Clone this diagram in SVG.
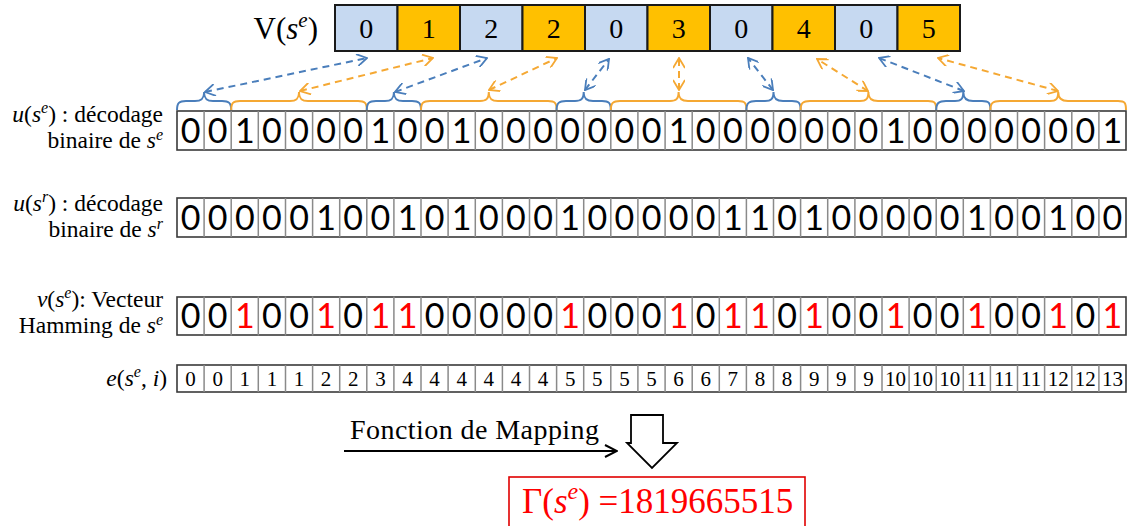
<svg xmlns="http://www.w3.org/2000/svg" width="1129" height="526" viewBox="0 0 1129 526">
<style>
.lbl{font-family:"Liberation Serif",serif;font-size:23.5px;fill:#000}
.it{font-style:italic}
.sup{font-style:italic;font-size:16px}
.vd{font-family:"Liberation Serif",serif;font-size:28px;fill:#000;text-anchor:middle}
.bin{font-family:Lato,"Liberation Sans",sans-serif;font-size:34px;fill:#000;text-anchor:middle}
.red{fill:#FF0000}
.ed{font-family:"Liberation Serif",serif;font-size:21px;fill:#000;text-anchor:middle}
.outer{fill:#fff;stroke:#3a3a3a;stroke-width:1.6}
.grid{stroke:#8a8a8a;stroke-width:1.5;fill:none}
.cb{fill:#C6D9F1;stroke:#1a1a1a;stroke-width:2}
.co{fill:#FFC000;stroke:#1a1a1a;stroke-width:2}
.brb{fill:none;stroke:#4A7EBB;stroke-width:2}
.bro{fill:none;stroke:#F5A833;stroke-width:2}
.ab{stroke:#4A7EBB;stroke-width:2;stroke-dasharray:7 5;fill:none;marker-start:url(#mb);marker-end:url(#mb)}
.ao{stroke:#F5A833;stroke-width:2;stroke-dasharray:7 5;fill:none;marker-start:url(#mo);marker-end:url(#mo)}
</style>
<defs>
<marker id="mb" viewBox="0 0 12 12" refX="11" refY="6" markerWidth="12" markerHeight="12" markerUnits="userSpaceOnUse" orient="auto-start-reverse"><path d="M1,0 L11,6 L1,12" fill="none" stroke="#4A7EBB" stroke-width="1.8"/></marker>
<marker id="mo" viewBox="0 0 12 12" refX="11" refY="6" markerWidth="12" markerHeight="12" markerUnits="userSpaceOnUse" orient="auto-start-reverse"><path d="M1,0 L11,6 L1,12" fill="none" stroke="#F5A833" stroke-width="1.8"/></marker>
<marker id="mk" viewBox="0 0 14 14" refX="13" refY="7" markerWidth="14" markerHeight="14" markerUnits="userSpaceOnUse" orient="auto"><path d="M1,1 L13,7 L1,13" fill="none" stroke="#000" stroke-width="2"/></marker>
<path id="g39" class="grid" d="M204.1,0V39M231.2,0V39M258.3,0V39M285.5,0V39M312.6,0V39M339.7,0V39M366.8,0V39M393.9,0V39M421,0V39M448.1,0V39M475.3,0V39M502.4,0V39M529.5,0V39M556.6,0V39M583.7,0V39M610.8,0V39M637.9,0V39M665.1,0V39M692.2,0V39M719.3,0V39M746.4,0V39M773.5,0V39M800.6,0V39M827.7,0V39M854.9,0V39M882,0V39M909.1,0V39M936.2,0V39M963.3,0V39M990.4,0V39M1017.5,0V39M1044.6,0V39M1071.8,0V39M1098.9,0V39"/>
<path id="g27" class="grid" d="M204.1,0V27M231.2,0V27M258.3,0V27M285.5,0V27M312.6,0V27M339.7,0V27M366.8,0V27M393.9,0V27M421,0V27M448.1,0V27M475.3,0V27M502.4,0V27M529.5,0V27M556.6,0V27M583.7,0V27M610.8,0V27M637.9,0V27M665.1,0V27M692.2,0V27M719.3,0V27M746.4,0V27M773.5,0V27M800.6,0V27M827.7,0V27M854.9,0V27M882,0V27M909.1,0V27M936.2,0V27M963.3,0V27M990.4,0V27M1017.5,0V27M1044.6,0V27M1071.8,0V27M1098.9,0V27"/>
</defs>
<rect width="1129" height="526" fill="#fff"/>

<g id="vse">
<text class="lbl" x="318" y="39" text-anchor="end" style="font-size:31px">V(<tspan class="it">s</tspan><tspan class="it" font-size="21" dy="-12">e</tspan><tspan dy="12">)</tspan></text>
<rect class="cb" x="335" y="5" width="62.5" height="46"/>
<rect class="co" x="397.5" y="5" width="62.5" height="46"/>
<rect class="cb" x="460" y="5" width="62.5" height="46"/>
<rect class="co" x="522.5" y="5" width="62.5" height="46"/>
<rect class="cb" x="585" y="5" width="62.5" height="46"/>
<rect class="co" x="647.5" y="5" width="62.5" height="46"/>
<rect class="cb" x="710" y="5" width="62.5" height="46"/>
<rect class="co" x="772.5" y="5" width="62.5" height="46"/>
<rect class="cb" x="835" y="5" width="62.5" height="46"/>
<rect class="co" x="897.5" y="5" width="62.5" height="46"/>
<text class="vd" y="38" x="366.25 428.75 491.25 553.75 616.25 678.75 741.25 803.75 866.25 928.75">0122030405</text>
</g>

<g id="braces">
<path class="brb" d="M177,110C177,103 179,101 186,101L195,101C201,101 204.1,99 204.1,92C204.1,99 207,101 213,101L222,101C229,101 231.2,103 231.2,110"/>
<path class="bro" d="M231.2,110C231.2,103 233,101 240,101L290,101C296,101 299,99 299,92C299,99 302,101 308,101L358,101C365,101 366.8,103 366.8,110"/>
<path class="brb" d="M366.8,110C366.8,103 369,101 376,101L385,101C391,101 393.9,99 393.9,92C393.9,99 397,101 403,101L412,101C419,101 421,103 421,110"/>
<path class="bro" d="M421,110C421,103 423,101 430,101L480,101C486,101 488.8,99 488.8,92C488.8,99 492,101 498,101L548,101C555,101 556.6,103 556.6,110"/>
<path class="brb" d="M556.6,110C556.6,103 559,101 566,101L575,101C581,101 583.7,99 583.7,92C583.7,99 587,101 593,101L602,101C609,101 610.8,103 610.8,110"/>
<path class="bro" d="M610.8,110C610.8,103 613,101 620,101L670,101C676,101 678.6,99 678.6,92C678.6,99 682,101 688,101L738,101C745,101 746.4,103 746.4,110"/>
<path class="brb" d="M746.4,110C746.4,103 749,101 756,101L765,101C771,101 773.5,99 773.5,92C773.5,99 777,101 783,101L792,101C799,101 800.6,103 800.6,110"/>
<path class="bro" d="M800.6,110C800.6,103 803,101 810,101L860,101C866,101 868.4,99 868.4,92C868.4,99 872,101 878,101L928,101C935,101 936.2,103 936.2,110"/>
<path class="brb" d="M936.2,110C936.2,103 939,101 946,101L955,101C961,101 963.3,99 963.3,92C963.3,99 967,101 973,101L982,101C989,101 990.4,103 990.4,110"/>
<path class="bro" d="M990.4,110C990.4,103 993,101 1000,101L1050,101C1056,101 1058.2,99 1058.2,92C1058.2,99 1062,101 1068,101L1118,101C1125,101 1126,103 1126,110"/>
</g>

<g id="connectors">
<line class="ab" x1="205" y1="92" x2="367" y2="58"/>
<line class="ao" x1="300" y1="91" x2="433" y2="58"/>
<line class="ab" x1="395" y1="92" x2="487" y2="58"/>
<line class="ao" x1="489" y1="90" x2="557" y2="58"/>
<line class="ab" x1="585" y1="90" x2="609" y2="59"/>
<line class="ao" x1="679" y1="90" x2="679" y2="58"/>
<line class="ab" x1="773" y1="90" x2="748" y2="58"/>
<line class="ao" x1="868" y1="91" x2="817" y2="59"/>
<line class="ab" x1="964" y1="91" x2="879" y2="58"/>
<line class="ao" x1="1058" y1="91" x2="938" y2="58"/>
<line x1="344" y1="451" x2="617" y2="451" stroke="#000" stroke-width="2" marker-end="url(#mk)"/>
</g>

<g id="row-ue">
<text class="lbl" text-anchor="end"><tspan x="163" y="122"><tspan class="it">u</tspan>(<tspan class="it">s</tspan><tspan class="sup" dy="-9">e</tspan><tspan dy="9">) : décodage</tspan></tspan><tspan x="163" y="148">binaire de <tspan class="it">s</tspan><tspan class="sup" dy="-8">e</tspan></tspan></text>
<rect class="outer" x="177" y="111" width="949" height="39"/>
<use href="#g39" y="111"/>
<text class="bin" y="143" x="190.6 217.7 244.8 271.9 299 326.1 353.2 380.4 407.5 434.6 461.7 488.8 515.9 543 570.2 597.3 624.4 651.5 678.6 705.7 732.8 760 787.1 814.2 841.3 868.4 895.5 922.6 949.7 976.9 1004 1031.1 1058.2 1085.3 1112.4">00100001001000000010000000100000001</text>
</g>

<g id="row-ur">
<text class="lbl" text-anchor="end"><tspan x="163" y="211"><tspan class="it">u</tspan>(<tspan class="it">s</tspan><tspan class="sup" dy="-9">r</tspan><tspan dy="9">) : décodage</tspan></tspan><tspan x="163" y="237">binaire de <tspan class="it">s</tspan><tspan class="sup" dy="-8">r</tspan></tspan></text>
<rect class="outer" x="177" y="198" width="949" height="39"/>
<use href="#g39" y="198"/>
<text class="bin" y="230" x="190.6 217.7 244.8 271.9 299 326.1 353.2 380.4 407.5 434.6 461.7 488.8 515.9 543 570.2 597.3 624.4 651.5 678.6 705.7 732.8 760 787.1 814.2 841.3 868.4 895.5 922.6 949.7 976.9 1004 1031.1 1058.2 1085.3 1112.4">00000100101000100000110100000100100</text>
</g>

<g id="row-v">
<text class="lbl" text-anchor="end"><tspan x="163" y="307"><tspan class="it">v</tspan>(<tspan class="it">s</tspan><tspan class="sup" dy="-9">e</tspan><tspan dy="9">): Vecteur</tspan></tspan><tspan x="163" y="333">Hamming de <tspan class="it">s</tspan><tspan class="sup" dy="-8">e</tspan></tspan></text>
<rect class="outer" x="177" y="297" width="949" height="38"/>
<use href="#g39" y="296.5"/>
<text class="bin" y="328"><tspan x="190.6">0</tspan><tspan x="217.7">0</tspan><tspan class="red" x="244.8">1</tspan><tspan x="271.9">0</tspan><tspan x="299">0</tspan><tspan class="red" x="326.1">1</tspan><tspan x="353.2">0</tspan><tspan class="red" x="380.4">1</tspan><tspan class="red" x="407.5">1</tspan><tspan x="434.6">0</tspan><tspan x="461.7">0</tspan><tspan x="488.8">0</tspan><tspan x="515.9">0</tspan><tspan x="543">0</tspan><tspan class="red" x="570.2">1</tspan><tspan x="597.3">0</tspan><tspan x="624.4">0</tspan><tspan x="651.5">0</tspan><tspan class="red" x="678.6">1</tspan><tspan x="705.7">0</tspan><tspan class="red" x="732.8">1</tspan><tspan class="red" x="760">1</tspan><tspan x="787.1">0</tspan><tspan class="red" x="814.2">1</tspan><tspan x="841.3">0</tspan><tspan x="868.4">0</tspan><tspan class="red" x="895.5">1</tspan><tspan x="922.6">0</tspan><tspan x="949.7">0</tspan><tspan class="red" x="976.9">1</tspan><tspan x="1004">0</tspan><tspan x="1031.1">0</tspan><tspan class="red" x="1058.2">1</tspan><tspan x="1085.3">0</tspan><tspan class="red" x="1112.4">1</tspan></text>
</g>

<g id="row-e">
<text class="lbl" x="167" y="386" text-anchor="end"><tspan class="it">e</tspan>(<tspan class="it">s</tspan><tspan class="sup" dy="-9">e</tspan><tspan dy="9">, </tspan><tspan class="it">i</tspan>)</text>
<rect class="outer" x="177" y="365" width="949" height="27"/>
<use href="#g27" y="365"/>
<text class="ed" y="385.5"><tspan x="190.6">0</tspan><tspan x="217.7">0</tspan><tspan x="244.8">1</tspan><tspan x="271.9">1</tspan><tspan x="299">1</tspan><tspan x="326.1">2</tspan><tspan x="353.2">2</tspan><tspan x="380.4">3</tspan><tspan x="407.5">4</tspan><tspan x="434.6">4</tspan><tspan x="461.7">4</tspan><tspan x="488.8">4</tspan><tspan x="515.9">4</tspan><tspan x="543">4</tspan><tspan x="570.2">5</tspan><tspan x="597.3">5</tspan><tspan x="624.4">5</tspan><tspan x="651.5">5</tspan><tspan x="678.6">6</tspan><tspan x="705.7">6</tspan><tspan x="732.8">7</tspan><tspan x="760">8</tspan><tspan x="787.1">8</tspan><tspan x="814.2">9</tspan><tspan x="841.3">9</tspan><tspan x="868.4">9</tspan><tspan x="895.5">10</tspan><tspan x="922.6">10</tspan><tspan x="949.7">10</tspan><tspan x="976.9">11</tspan><tspan x="1004">11</tspan><tspan x="1031.1">11</tspan><tspan x="1058.2">12</tspan><tspan x="1085.3">12</tspan><tspan x="1112.4">13</tspan></text>
</g>

<g id="mapping">
<text class="lbl" x="350" y="439" style="font-size:28px" textLength="249" lengthAdjust="spacing">Fonction de Mapping</text>
<path d="M631,415 L663,415 L663,443 L677,443 L652,468 L627,443 L631,443 Z" fill="#fff" stroke="#000" stroke-width="1.8" stroke-linejoin="miter"/>
</g>

<g id="result">
<rect x="509" y="477" width="296" height="60" fill="#fff" stroke="#E00000" stroke-width="1.6"/>
<text x="522" y="513" font-family="Liberation Serif,serif" font-size="35" fill="#FF0000">Γ(<tspan font-style="italic">s</tspan><tspan font-style="italic" font-size="24" dy="-14">e</tspan><tspan dy="14">) =1819665515</tspan></text>
</g>
</svg>
